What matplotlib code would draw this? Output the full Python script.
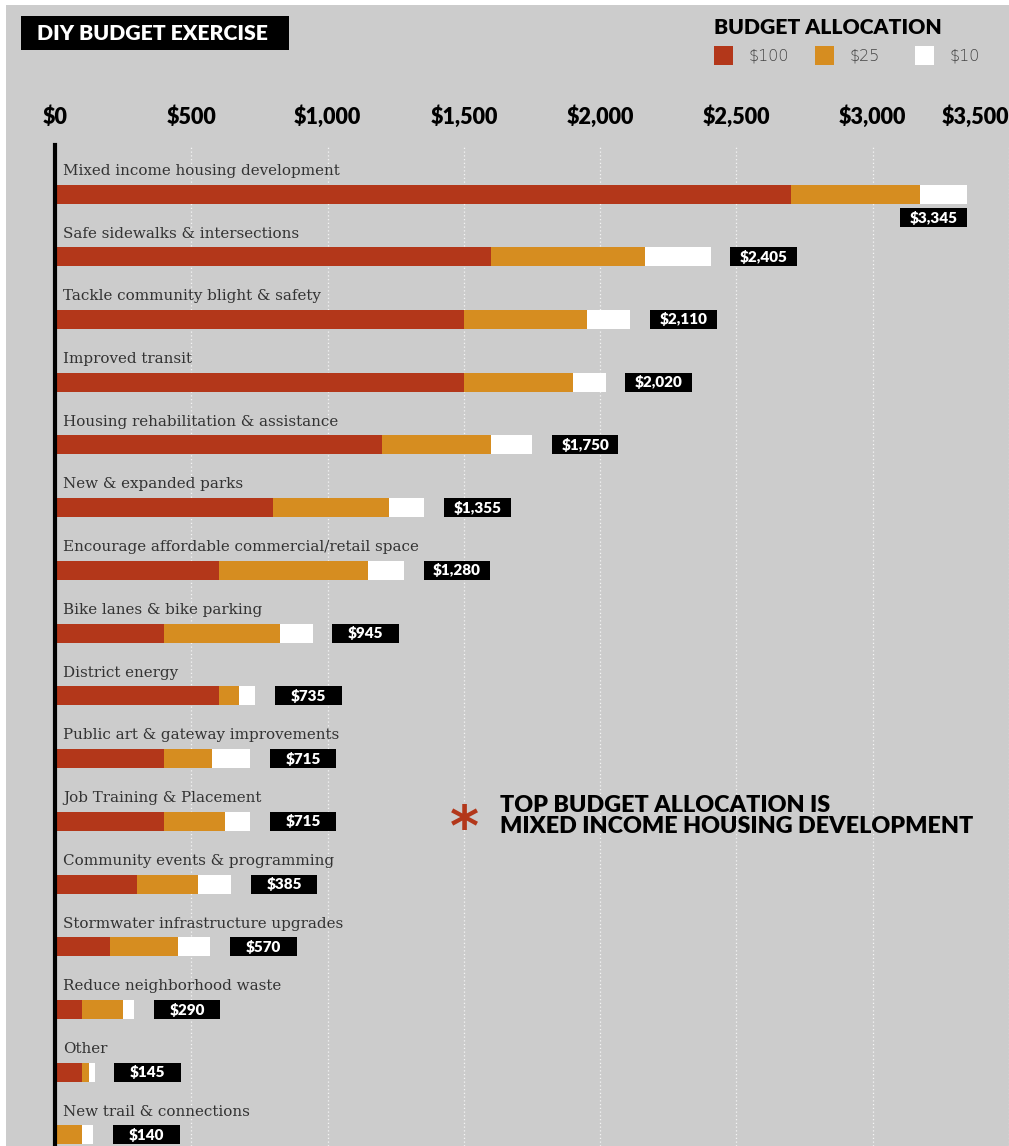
import matplotlib.pyplot as plt
from matplotlib.patches import Rectangle

# ------------------------------- DATA ---------------------------------------
categories = [
    "Mixed income housing development",
    "Safe sidewalks & intersections",
    "Tackle community blight & safety",
    "Improved transit",
    "Housing rehabilitation & assistance",
    "New & expanded parks",
    "Encourage affordable commercial/retail space",
    "Bike lanes & bike parking",
    "District energy",
    "Public art & gateway improvements",
    "Job Training & Placement",
    "Community events & programming",
    "Stormwater infrastructure upgrades",
    "Reduce neighborhood waste",
    "Other",
    "New trail & connections",
]
chips_100 = [2700, 1600, 1500, 1500, 1200, 800, 600, 400, 600, 400, 400, 300, 200, 100, 100, 0]
chips_25 = [475, 565, 450, 400, 400, 425, 550, 425, 75, 175, 225, 225, 250, 150, 25, 100]
chips_10 = [170, 240, 160, 120, 150, 130, 130, 120, 60, 140, 90, 120, 120, 40, 20, 40]
total_labels = ["$3,345", "$2,405", "$2,110", "$2,020", "$1,750", "$1,355", "$1,280",
                "$945", "$735", "$715", "$715", "$385", "$570", "$290", "$145", "$140"]
tick_values = [0, 500, 1000, 1500, 2000, 2500, 3000, 3500]
tick_labels = ["$0", "$500", "$1,000", "$1,500", "$2,000", "$2,500", "$3,000", "$3,500"]

# ------------------------------- STYLE --------------------------------------
RED = "#b3371a"
ORANGE = "#d68d20"
BG = "#cccccc"
HEAVY = "Lato"

W, H = 1009, 1146
fig = plt.figure(figsize=(W / 100, H / 100), dpi=100, facecolor="white")
fig.patches.append(Rectangle((6 / W, 0), 1, 1 - 5 / H, transform=fig.transFigure,
                             facecolor=BG, edgecolor="none", zorder=-10))

ax_left, ax_top = 55, 145
ax = fig.add_axes([ax_left / W, 0, (W - ax_left) / W, 1 - ax_top / H])
ax.set_facecolor("none")

px_per_dollar = 137.2 / 500
row_px = 62.73
ax.set_xlim(0, (W - ax_left) / px_per_dollar)
ax.set_ylim(15 + (H - 1135) / row_px, -(194 - ax_top) / row_px)

ypos = list(range(len(categories)))
bar_h = 19 / row_px
lefts2 = [a for a in chips_100]
lefts3 = [a + b for a, b in zip(chips_100, chips_25)]
totals = [a + b + c for a, b, c in zip(chips_100, chips_25, chips_10)]

ax.barh(ypos, chips_100, height=bar_h, color=RED, zorder=3)
ax.barh(ypos, chips_25, left=lefts2, height=bar_h, color=ORANGE, zorder=3)
ax.barh(ypos, chips_10, left=lefts3, height=bar_h, color="white", zorder=3)

# category labels above bars
for y, name in zip(ypos, categories):
    ax.text(29, y - 0.37, name, fontsize=10.9, family="DejaVu Serif",
            color="#333333", va="center", ha="left", zorder=4)

# black value boxes
box_w = 67 / px_per_dollar
box_gap = 20 / px_per_dollar
box_h = 19 / row_px
for i, (y, tot, lab) in enumerate(zip(ypos, totals, total_labels)):
    if i == 0:
        x0 = tot - box_w
        yy = y + 0.38
    else:
        x0 = tot + box_gap
        yy = y
    ax.barh(yy, box_w, left=x0, height=box_h, color="black", zorder=4)
    ax.text(x0 + box_w / 2, yy, lab, color="white", fontsize=11, family=HEAVY,
            fontweight="heavy", ha="center", va="center", zorder=5)

# axes styling
ax.xaxis.tick_top()
ax.set_xticks(tick_values)
ax.set_xticklabels(tick_labels, family=HEAVY, fontweight="heavy", fontsize=15.5)
ax.get_xticklabels()[-1].set_horizontalalignment("right")
ax.tick_params(axis="x", length=0, pad=12)
ax.set_yticks([])
ax.grid(axis="x", color="white", linestyle=(0, (1, 2)), linewidth=0.9, alpha=0.8, zorder=0)
for s in ["top", "right", "bottom"]:
    ax.spines[s].set_visible(False)
ax.spines["left"].set_linewidth(3)
ax.spines["left"].set_color("black")
ax.spines["left"].set_zorder(6)

# title box
fig.patches.append(Rectangle((21 / W, 1 - 50 / H), 268 / W, 34 / H, transform=fig.transFigure,
                             facecolor="black", edgecolor="none"))
fig.text(37 / W, 1 - 33 / H, "DIY BUDGET EXERCISE", color="white", fontsize=15.3,
         family=HEAVY, fontweight="heavy", va="center", ha="left")

# legend
fig.text(714 / W, 1 - 28 / H, "BUDGET ALLOCATION", color="black", fontsize=15.2,
         family=HEAVY, fontweight="heavy", va="center", ha="left")
legend_items = [(714, RED, "$100"), (815, ORANGE, "$25"), (915, "white", "$10")]
for x, col, lab in legend_items:
    fig.patches.append(Rectangle((x / W, 1 - 65 / H), 19 / W, 19 / H, transform=fig.transFigure,
                                 facecolor=col, edgecolor="none"))
    fig.text((x + 35) / W, 1 - 56 / H, lab, color="#444444", fontsize=11.5,
             family="DejaVu Sans", fontweight="light", va="center", ha="left")

# annotation
fig.text(464 / W, 1 - 830 / H, "*", color=RED, fontsize=40, family="DejaVu Sans",
         fontweight="bold", va="center", ha="center")
fig.text(500 / W, 1 - 816 / H, "TOP BUDGET ALLOCATION IS\nMIXED INCOME HOUSING DEVELOPMENT",
         color="black", fontsize=16.8, family=HEAVY, fontweight="heavy", va="center",
         ha="left", linespacing=1.0)

fig.savefig("out.png", dpi=100, facecolor=fig.get_facecolor())
plt.close(fig)
